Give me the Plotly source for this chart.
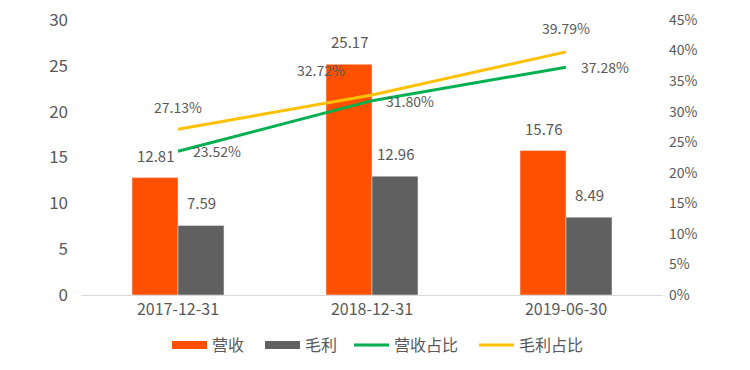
import plotly.graph_objects as go

categories = ["2017-12-31", "2018-12-31", "2019-06-30"]
revenue = [12.81, 25.17, 15.76]
gross_profit = [7.59, 12.96, 8.49]
revenue_share = [23.52, 31.80, 37.28]
gross_share = [27.13, 32.72, 39.79]

left_ticks = [0, 5, 10, 15, 20, 25, 30]
right_ticks = [0, 5, 10, 15, 20, 25, 30, 35, 40, 45]

C_REV = "#FF5000"
C_GP = "#606060"
C_GREEN = "#00B050"
C_YELLOW = "#FFC000"
TXT = "#595959"
FONT = "Noto Sans CJK SC"

W, H = 750, 370
plot_l, plot_t, plot_w, plot_h = 81, 20, 582, 275

fig = go.Figure()
fig.add_bar(x=categories, y=revenue, marker_color=C_REV, name="营收", showlegend=False)
fig.add_bar(x=categories, y=gross_profit, marker_color=C_GP, name="毛利", showlegend=False)
fig.add_scatter(x=categories, y=revenue_share, yaxis="y2", mode="lines",
                line=dict(color=C_GREEN, width=3), name="营收占比", showlegend=False)
fig.add_scatter(x=categories, y=gross_share, yaxis="y2", mode="lines",
                line=dict(color=C_YELLOW, width=3), name="毛利占比", showlegend=False)

# legend entries (each in its own legend so spacing can follow the reference)
leg_items = [("营收", C_REV, 8, "legend"), ("毛利", C_GP, 8, "legend2"),
             ("营收占比", C_GREEN, 3, "legend3"), ("毛利占比", C_YELLOW, 3, "legend4")]
for name, col, w, lg in leg_items:
    fig.add_scatter(x=[None], y=[None], mode="lines", line=dict(color=col, width=w),
                    name=name, legend=lg)

# bar labels
for vals, dx in ((revenue, -23), (gross_profit, 23)):
    for c, v in zip(categories, vals):
        fig.add_annotation(x=c, y=v, text=f"{v:.2f}", showarrow=False, yanchor="bottom",
                           xshift=dx, yshift=10, font=dict(color=TXT, size=15, family=FONT))

# percent labels
green_shift = [(39, 0), (38, 0), (39, 0)]
yellow_shift = [(0, 22), (-51, 25), (0, 24)]
for c, v, (dx, dy) in zip(categories, revenue_share, green_shift):
    fig.add_annotation(x=c, y=v, yref="y2", text=f"{v:.2f}%", showarrow=False,
                       xshift=dx, yshift=dy, font=dict(color=TXT, size=14, family=FONT))
for c, v, (dx, dy) in zip(categories, gross_share, yellow_shift):
    fig.add_annotation(x=c, y=v, yref="y2", text=f"{v:.2f}%", showarrow=False,
                       xshift=dx, yshift=dy, font=dict(color=TXT, size=14, family=FONT))

def lx(px):
    return (px - plot_l) / plot_w

leg_common = dict(orientation="h", y=-0.12, yanchor="top", xanchor="left",
                  font=dict(size=16, color=TXT), itemwidth=35, bgcolor="rgba(0,0,0,0)")

fig.update_layout(
    width=W, height=H,
    margin=dict(l=plot_l, r=W - plot_l - plot_w, t=plot_t, b=H - plot_t - plot_h,
                autoexpand=False),
    paper_bgcolor="white", plot_bgcolor="white",
    font=dict(family=FONT, color=TXT, size=14),
    barmode="group", bargap=0.526, bargroupgap=0,
    xaxis=dict(type="category", showline=True, linecolor="#D9D9D9", linewidth=1, ticks="",
               tickfont=dict(size=16, color=TXT), showgrid=False),
    yaxis=dict(range=[0, 30], tickvals=left_ticks, showgrid=False, zeroline=False,
               tickfont=dict(size=17, color=TXT), ticklabelstandoff=12),
    yaxis2=dict(range=[0, 45], tickvals=right_ticks, ticktext=[f"{t}%" for t in right_ticks],
                overlaying="y", side="right", showgrid=False, zeroline=False,
                tickfont=dict(size=14, color=TXT), ticklabelstandoff=5),
    legend=dict(x=lx(173 - 6), **leg_common),
    legend2=dict(x=lx(266 - 6), **leg_common),
    legend3=dict(x=lx(355 - 6), **leg_common),
    legend4=dict(x=lx(480 - 6), **leg_common),
)

# remove the browser's default 8px page margin so the figure fills the window exactly
fig.write_html("out.html", config={"displayModeBar": False},
               post_script="document.body.style.margin='0';")
